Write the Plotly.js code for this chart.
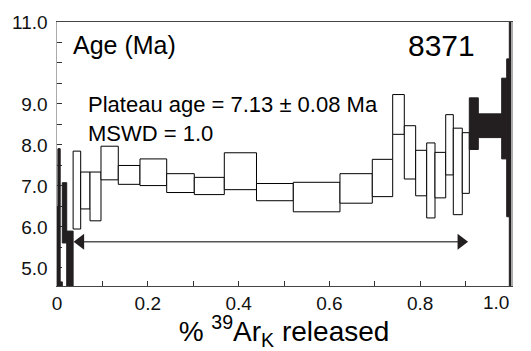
<!DOCTYPE html>
<html><head><meta charset="utf-8">
<script src="https://cdn.plot.ly/plotly-3.0.1.min.js"></script>
<style>html,body{margin:0;padding:0;background:#fff;}#chart{width:531px;height:351px;}</style>
</head><body><div id="chart"></div>
<script>
// Cumulative fraction of 39Ar_K released at the start of each heating step
const stepStart = [0, 0.002, 0.007, 0.0117, 0.0214, 0.0355, 0.0522, 0.0727, 0.0969, 0.135,
  0.1828, 0.2416, 0.3024, 0.3685, 0.4394, 0.5205, 0.6233, 0.6945, 0.7394, 0.765,
  0.790, 0.8143, 0.8326, 0.8562, 0.8729, 0.8927, 0.9082, 0.928, 0.9795, 0.9905, 0.9963];
const stepEnd = [0.002, 0.007, 0.0117, 0.0214, 0.0355, 0.0522, 0.0727, 0.0969, 0.135, 0.1828,
  0.2416, 0.3024, 0.3685, 0.4394, 0.5205, 0.6233, 0.6945, 0.7394, 0.765, 0.790,
  0.8143, 0.8326, 0.8562, 0.8729, 0.8927, 0.9082, 0.928, 0.9795, 0.9905, 0.9963, 1.0];
// Age error envelope of each step (Ma)
const ageLow = [3.0, 3.0, 3.0, 5.61, 3.0, 5.95, 6.44, 6.15, 7.15, 7.04,
  7.01, 6.84, 6.79, 6.91, 6.64, 6.37, 6.58, 6.74, 8.26, 7.17,
  6.76, 6.22, 6.71, 7.27, 6.30, 6.82, 7.89, 8.18, 7.66, 6.25, 3.0];
const ageHigh = [6.49, 7.91, 4.66, 7.08, 5.90, 7.85, 7.34, 7.34, 7.97, 7.50,
  7.66, 7.30, 7.21, 7.81, 7.06, 7.09, 7.30, 7.65, 9.23, 8.47,
  7.87, 8.05, 7.82, 8.74, 8.41, 8.30, 9.15, 8.76, 9.63, 10.10, 12.0];
// true = step used in plateau (open box), false = excluded (filled)
const inPlateau = [false, false, false, false, false, true, true, true, true, true,
  true, true, true, true, true, true, true, true, true, true,
  true, true, true, true, true, true, false, false, false, false, false];

const plateauAge = 7.13, plateauErr = 0.08, mswd = 1.0;
const sampleLabel = '8371';
const arrowFrac = [0.052, 0.89];
const arrowAge = [5.64, 5.64];

const yTickVals = [5, 6, 7, 8, 9, 11];
const yTickText = ['5.0', '6.0', '7.0', '8.0', '9.0', '11.0'];
const xTickVals = [0, 0.2, 0.4, 0.6, 0.8];
const xTickText = ['0', '0.2', '0.4', '0.6', '0.8'];
const xEndLabel = '1.0';

const FONT = 'Liberation Sans, Arial, sans-serif';
const DARK = '#231f20';

const centers = stepStart.map((s, i) => (s + stepEnd[i]) / 2);
const widths = stepStart.map((s, i) => stepEnd[i] - s);
const heights = ageLow.map((l, i) => ageHigh[i] - l);

const bars = {
  type: 'bar', x: centers, width: widths, base: ageLow, y: heights,
  marker: {
    color: inPlateau.map(p => p ? '#ffffff' : DARK),
    line: {color: inPlateau.map(p => p ? '#000000' : DARK), width: 1}
  },
  hoverinfo: 'skip'
};

// vertical connectors between adjacent plateau steps whose boxes do not overlap
const connX = [], connY = [];
for (let i = 0; i < stepStart.length - 1; i++) {
  if (inPlateau[i] && inPlateau[i + 1]) {
    if (ageLow[i + 1] > ageHigh[i]) { connX.push(stepEnd[i], stepEnd[i], null); connY.push(ageHigh[i], ageLow[i + 1], null); }
    else if (ageHigh[i + 1] < ageLow[i]) { connX.push(stepEnd[i], stepEnd[i], null); connY.push(ageHigh[i + 1], ageLow[i], null); }
  }
}
const connectors = {type: 'scatter', mode: 'lines', x: connX, y: connY, line: {color: '#000', width: 1}, hoverinfo: 'skip'};

const arrow = {
  type: 'scatter', mode: 'lines+markers', x: arrowFrac, y: arrowAge,
  line: {color: '#555', width: 1.5},
  marker: {symbol: ['triangle-left', 'triangle-right'], size: 14, color: DARK, line: {width: 0}},
  hoverinfo: 'skip'
};

const layout = {
  width: 531, height: 351,
  margin: {l: 57, r: 20, t: 22, b: 65, pad: 0},
  paper_bgcolor: '#fff', plot_bgcolor: '#fff',
  showlegend: false,
  font: {family: FONT, color: '#000'},
  xaxis: {
    range: [0, 1], tickmode: 'array', tickvals: xTickVals, ticktext: xTickText,
    ticks: 'inside', ticklen: 5, tickwidth: 1, tickcolor: '#333',
    minor: {tick0: 0, dtick: 0.1, ticks: 'inside', ticklen: 5, tickwidth: 1, tickcolor: '#333', showgrid: false},
    showline: true, linecolor: '#444', linewidth: 1, mirror: true,
    showgrid: false, zeroline: false, layer: 'below traces',
    tickfont: {family: FONT, size: 19, color: '#111'},
    title: {text: '% <sup>39</sup>Ar<sub>K</sub> released', font: {family: FONT, size: 28, color: '#000'}, standoff: 4}
  },
  yaxis: {
    range: [4.56, 11], tickmode: 'array', tickvals: yTickVals, ticktext: yTickText,
    ticks: 'inside', ticklen: 5, tickwidth: 1, tickcolor: '#333',
    minor: {tick0: 0, dtick: 0.5, ticks: 'inside', ticklen: 5, tickwidth: 1, tickcolor: '#333', showgrid: false},
    showline: true, linecolor: '#aaa', linewidth: 1.5, mirror: true,
    showgrid: false, zeroline: false, layer: 'below traces',
    tickfont: {family: FONT, size: 19, color: '#111'}, ticklabelstandoff: 4
  },
  annotations: [
    {xref: 'x', yref: 'paper', x: 1.0, y: 0, xanchor: 'right', yanchor: 'top', yshift: -4,
     text: xEndLabel, showarrow: false, font: {family: FONT, size: 19, color: '#111'}},
    {xref: 'paper', yref: 'paper', x: 0.031, y: 0.912, xanchor: 'left', yanchor: 'middle',
     text: 'Age (Ma)', showarrow: false, font: {family: FONT, size: 25, color: '#000'}},
    {xref: 'paper', yref: 'paper', x: 0.846, y: 0.912, xanchor: 'center', yanchor: 'middle',
     text: sampleLabel, showarrow: false, font: {family: FONT, size: 30, color: '#000'}},
    {xref: 'paper', yref: 'paper', x: 0.064, y: 0.632, xanchor: 'left', yanchor: 'middle', align: 'left',
     text: 'Plateau age = ' + plateauAge.toFixed(2) + ' ± ' + plateauErr.toFixed(2) + ' Ma<br>MSWD = ' + mswd.toFixed(1),
     showarrow: false, font: {family: FONT, size: 22, color: '#000'}}
  ]
};

Plotly.newPlot('chart', [bars, connectors, arrow], layout, {staticPlot: true, displayModeBar: false});
</script>
</body></html>
